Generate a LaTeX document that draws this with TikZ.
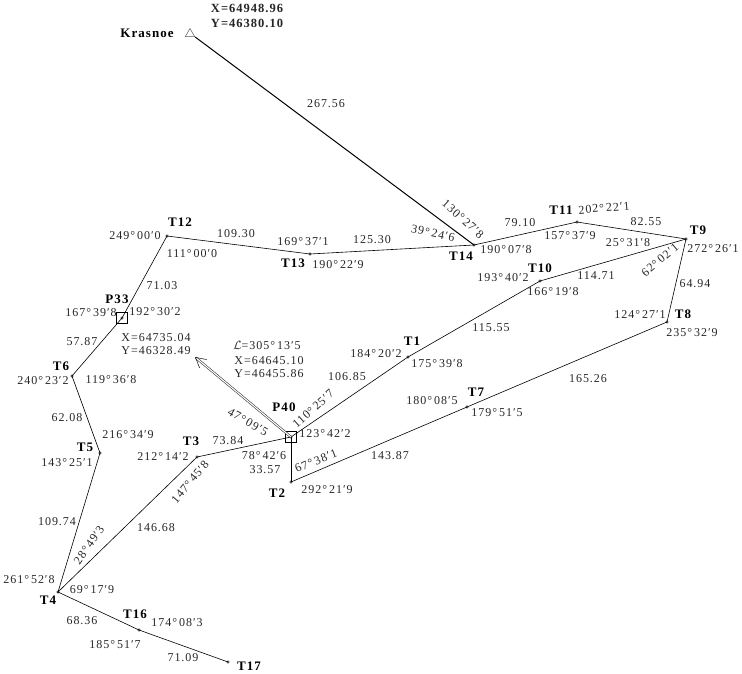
\documentclass[tikz,border=0pt]{standalone}
\usepackage{fontspec}
\setmainfont[LetterSpace=8]{Liberation Serif}
\usetikzlibrary{arrows.meta,shapes.geometric}
\newcommand{\ang}[3]{#1°\,#2′#3}
\tikzset{
  x=1pt,y=-1pt,
  lbl/.style={inner sep=0pt,font=\fontsize{12}{13}\selectfont,text=black!85},
  coordbold/.style={inner sep=0pt,font=\fontsize{12.5}{13}\selectfont\bfseries,text=black!85},
  stname/.style={inner sep=0pt,font=\fontsize{13}{14}\selectfont\bfseries},
  stpt/.style={circle,draw=black!70,fill=black!60,inner sep=0pt,minimum size=2.6pt},
  stsq/.style={rectangle,draw=black,fill=none,line width=0.7pt,inner sep=0pt,minimum size=11pt},
  sttri/.style={regular polygon,regular polygon sides=3,draw=black!65,fill=white,inner sep=0pt,minimum size=11pt,line width=0.5pt},
  leg/.style={draw=black,line width=0.6pt},
  baseline leg/.style={draw=black,line width=1pt},
  dirn/.style={draw=black!85,double=white,double distance=1.1pt,line width=0.55pt,-{Straight Barb[length=10pt,width=11pt,line width=0.6pt]}}
}
\begin{document}
\begin{tikzpicture}
\useasboundingbox (0,0) rectangle (742,674);
% stations
\node[sttri] (K) at (190,34) {};
\node[stpt] (T14) at (474,245) {};
\node[stpt] (T13) at (310,254) {};
\node[stpt] (T12) at (167,236) {};
\node[stsq] (P33) at (122,318) {};
\node[stpt] (P33d) at (122,318) {};
\node[stpt] (T6) at (72,376) {};
\node[stpt] (T5) at (100,453) {};
\node[stpt] (T4) at (58,592) {};
\node[stpt] (T3) at (197,457) {};
\node[stsq] (P40) at (291,437) {};
\node[stpt] (P40d) at (291,437) {};
\node[stpt] (T2) at (291,482) {};
\node[stpt] (T1) at (408,357) {};
\node[stpt] (T10) at (540,281) {};
\node[stpt] (T9) at (686,239) {};
\node[stpt] (T11) at (577,222) {};
\node[stpt] (T8) at (667,322) {};
\node[stpt] (T7) at (467,407) {};
\node[stpt] (T16) at (139,630) {};
\node[stpt] (T17) at (228,662) {};
\coordinate (dirEnd) at (195,357);
% connectors
\draw[baseline leg] (K.corner 3) -- (T14.center);
\draw[leg] (T14.center) -- (T13.center) -- (T12.center) -- (P33.center) -- (T6.center) -- (T5.center) -- (T4.center) -- (T3.center) -- (P40.center);
\draw[leg] (P40.center) -- (T1.center) -- (T10.center) -- (T9.center);
\draw[leg] (T14.center) -- (T11.center) -- (T9.center) -- (T8.center) -- (T7.center) -- (T2.center);
\draw[baseline leg] (T2.center) -- (P40.center);
\draw[leg] (T4.center) -- (T16.center) -- (T17.center);
\draw[dirn] (P40.center) -- (dirEnd);
% names
\node[stname] (nK) at (147,33) {Krasnoe};
\node[stname] (n14) at (461,256) {T14};
\node[stname] (n11) at (561,210) {T11};
\node[stname] (n9) at (698,230) {T9};
\node[stname] (n10) at (540,268) {T10};
\node[stname] (n8) at (683,314) {T8};
\node[stname] (n7) at (476,392) {T7};
\node[stname] (n1) at (412,341) {T1};
\node[stname] (n40) at (284,407) {P40};
\node[stname] (n3) at (191,441) {T3};
\node[stname] (n2) at (277,493) {T2};
\node[stname] (n5) at (85,447) {T5};
\node[stname] (n6) at (61,366) {T6};
\node[stname] (n33) at (117,299) {P33};
\node[stname] (n12) at (180,222) {T12};
\node[stname] (n13) at (293,263) {T13};
\node[stname] (n4) at (48,600) {T4};
\node[stname] (n16) at (135,614) {T16};
\node[stname] (n17) at (249,666) {T17};
% coordinates
\node[coordbold] (c1) at (247,8) {X=64948.96};
\node[coordbold] (c2) at (247,23) {Y=46380.10};
\node[lbl] (c3) at (156,338) {X=64735.04};
\node[lbl] (c4) at (156,351) {Y=46328.49};
\node[lbl] (c5) at (267,345) {$\mathcal{L}$=\ang{305}{13}{5}};
\node[lbl] (c6) at (269,361) {X=64645.10};
\node[lbl] (c7) at (269,374) {Y=46455.86};
% distances
\node[lbl] (d1) at (326,104) {267.56};
\node[lbl] (d2) at (520,223) {79.10};
\node[lbl] (d3) at (646,222) {82.55};
\node[lbl] (d4) at (596,276) {114.71};
\node[lbl] (d5) at (695,284) {64.94};
\node[lbl] (d6) at (491,328) {115.55};
\node[lbl] (d7) at (588,379) {165.26};
\node[lbl] (d8) at (347,377) {106.85};
\node[lbl] (d9) at (390,456) {143.87};
\node[lbl] (d10) at (228,441) {73.84};
\node[lbl] (d11) at (265,470) {33.57};
\node[lbl] (d12) at (67,418) {62.08};
\node[lbl] (d13) at (82,342) {57.87};
\node[lbl] (d14) at (162,286) {71.03};
\node[lbl] (d15) at (236,234) {109.30};
\node[lbl] (d16) at (372,240) {125.30};
\node[lbl] (d17) at (57,522) {109.74};
\node[lbl] (d18) at (156,528) {146.68};
\node[lbl] (d19) at (82,621) {68.36};
\node[lbl] (d20) at (183,658) {71.09};
% angles
\node[lbl,rotate=-42] (a1) at (463,219) {\ang{130}{27}{8}};
\node[lbl,rotate=-12] (a2) at (433,233) {\ang{39}{24}{6}};
\node[lbl] (a3) at (506,250) {\ang{190}{07}{8}};
\node[lbl,rotate=5] (a4) at (604,208) {\ang{202}{22}{1}};
\node[lbl] (a5) at (570,236) {\ang{157}{37}{9}};
\node[lbl] (a6) at (628,243) {\ang{25}{31}{8}};
\node[lbl] (a7) at (713,249) {\ang{272}{26}{1}};
\node[lbl] (a8) at (503,278) {\ang{193}{40}{2}};
\node[lbl] (a9) at (553,292) {\ang{166}{19}{8}};
\node[lbl,rotate=40] (a10) at (660,260) {\ang{62}{02}{1}};
\node[lbl] (a11) at (640,315) {\ang{124}{27}{1}};
\node[lbl] (a12) at (692,333) {\ang{235}{32}{9}};
\node[lbl] (a13) at (432,401) {\ang{180}{08}{5}};
\node[lbl] (a14) at (497,413) {\ang{179}{51}{5}};
\node[lbl] (a15) at (376,354) {\ang{184}{20}{2}};
\node[lbl] (a16) at (437,364) {\ang{175}{39}{8}};
\node[lbl,rotate=42] (a17) at (313,409) {\ang{110}{25}{7}};
\node[lbl] (a18) at (325,434) {\ang{123}{42}{2}};
\node[lbl,rotate=-30] (a19) at (248,422) {\ang{47}{09}{5}};
\node[lbl] (a20) at (163,457) {\ang{212}{14}{2}};
\node[lbl] (a21) at (264,456) {\ang{78}{42}{6}};
\node[lbl,rotate=22] (a22) at (316,461) {\ang{67}{38}{1}};
\node[lbl] (a23) at (327,490) {\ang{292}{21}{9}};
\node[lbl,rotate=50] (a24) at (190,482) {\ang{147}{45}{8}};
\node[lbl] (a25) at (128,435) {\ang{216}{34}{9}};
\node[lbl] (a26) at (67,463) {\ang{143}{25}{1}};
\node[lbl] (a27) at (43,381) {\ang{240}{23}{2}};
\node[lbl] (a28) at (111,380) {\ang{119}{36}{8}};
\node[lbl] (a29) at (91,313) {\ang{167}{39}{8}};
\node[lbl] (a30) at (155,312) {\ang{192}{30}{2}};
\node[lbl] (a31) at (192,254) {\ang{111}{00}{0}};
\node[lbl] (a32) at (135,236) {\ang{249}{00}{0}};
\node[lbl] (a33) at (303,242) {\ang{169}{37}{1}};
\node[lbl] (a34) at (338,265) {\ang{190}{22}{9}};
\node[lbl,rotate=55] (a35) at (89,545) {\ang{28}{49}{3}};
\node[lbl] (a36) at (29,580) {\ang{261}{52}{8}};
\node[lbl] (a37) at (92,590) {\ang{69}{17}{9}};
\node[lbl] (a38) at (177,623) {\ang{174}{08}{3}};
\node[lbl] (a39) at (115,645) {\ang{185}{51}{7}};
\end{tikzpicture}
\end{document}
